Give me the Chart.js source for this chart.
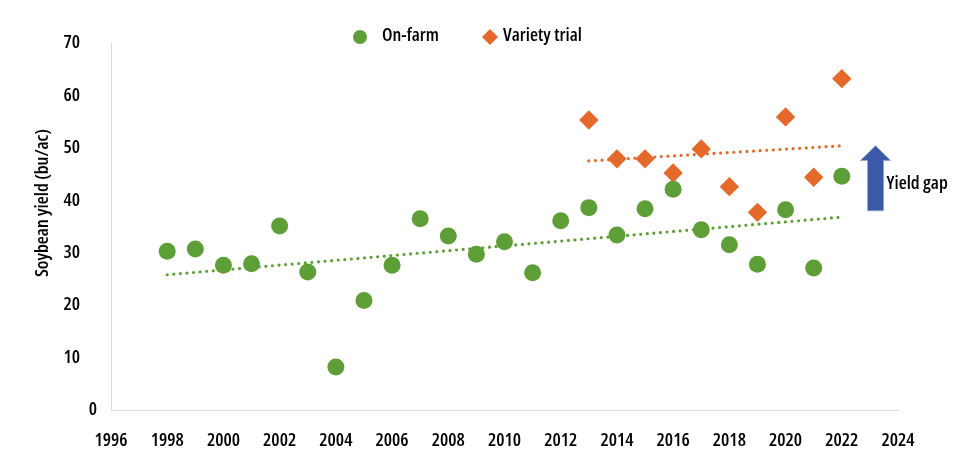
<!DOCTYPE html>
<html>
<head>
<meta charset="utf-8">
<script src="https://cdn.jsdelivr.net/npm/chart.js@4.4.1/dist/chart.umd.min.js"></script>
<style>
  html, body { margin: 0; padding: 0; background: #fff; }
  #wrap { width: 968px; height: 471px; }
</style>
</head>
<body>
<div id="wrap"><canvas id="yieldChart"></canvas></div>
<script>
// data
const onFarmYears = [1998, 1999, 2000, 2001, 2002, 2003, 2004, 2005, 2006, 2007, 2008, 2009, 2010,
                     2011, 2012, 2013, 2014, 2015, 2016, 2017, 2018, 2019, 2020, 2021, 2022];
const onFarmYield = [30.3, 30.7, 27.6, 27.9, 35.1, 26.3, 8.2, 20.9, 27.6, 36.5, 33.2, 29.7, 32.1,
                     26.2, 36.1, 38.6, 33.4, 38.4, 42.1, 34.4, 31.5, 27.8, 38.2, 27.1, 44.6];

const trialYears = [2013, 2014, 2015, 2016, 2017, 2018, 2019, 2020, 2021, 2022];
const trialYield = [55.3, 47.9, 47.9, 45.2, 49.8, 42.6, 37.7, 55.9, 44.4, 63.2];

// trend line end points (as drawn)
const onFarmTrendYears = [1998, 2022];
const onFarmTrendYield = [25.8, 36.8];
const trialTrendYears = [2013, 2022];
const trialTrendYield = [47.5, 50.4];

const xTicks = [1996, 1998, 2000, 2002, 2004, 2006, 2008, 2010, 2012, 2014, 2016, 2018, 2020, 2022, 2024];
const yTicks = [0, 10, 20, 30, 40, 50, 60, 70];

// yield gap arrow (data units)
const gapArrow = { x: 2023.2, from: 38.0, to: 50.4, headBase: 47.6 };

const GREEN = '#5e9e37';
const ORANGE = '#e5692a';
const BLUE = '#3a5aa8';

// look for a narrow face; the reference uses a condensed sans
function pickFont() {
    const c = document.createElement('canvas').getContext('2d');
    const probe = 'Soybean yield (bu/ac) 1996';
    c.font = '100px "Liberation Sans"';
    const base = c.measureText(probe).width;
    const tries = [
        ['"Open Sans"', 'condensed'],
        ['"Noto Sans"', 'condensed'],
        ['"Liberation Sans Narrow"', ''],
        ['"Roboto Condensed"', ''],
        ['"DejaVu Sans Condensed"', '']
    ];
    for (const [fam, st] of tries) {
        c.font = (st ? st + ' ' : '') + '100px ' + fam + ', "Liberation Sans"';
        const r = c.measureText(probe).width / base;
        if (r < 0.93) {
            const best = { family: fam, stretch: st };
            // size so that "1996" is about 33px wide
            c.font = '600 ' + (st ? st + ' ' : '') + '100px ' + fam;
            const w = c.measureText('1996').width / 100;
            best.size = Math.min(20, Math.round(33 / w * 2) / 2);
            return best;
        }
    }
    return { family: '"Liberation Sans"', stretch: '', size: 16 };
}
const FNT = pickFont();
const FAMILY = FNT.family + ', "Liberation Sans", sans-serif';
const FS = FNT.size;
const WEIGHT = FNT.stretch ? '600 ' + FNT.stretch : 'normal';
const fontStr = WEIGHT + ' ' + FS + 'px ' + FAMILY;

const pts = (xs, ys) => xs.map((x, i) => ({ x: x, y: ys[i] }));

// legend, axis title and arrow drawn by hand
const extras = {
    id: 'extras',
    afterDraw(chart) {
        const ctx = chart.ctx;
        const xs = chart.scales.x, ys = chart.scales.y;
        ctx.save();

        // legend
        ctx.fillStyle = GREEN;
        ctx.beginPath();
        ctx.arc(360, 37, 7, 0, Math.PI * 2);
        ctx.fill();
        ctx.fillStyle = ORANGE;
        ctx.beginPath();
        ctx.moveTo(490, 29); ctx.lineTo(498, 37); ctx.lineTo(490, 45); ctx.lineTo(482, 37);
        ctx.closePath();
        ctx.fill();
        ctx.fillStyle = '#000';
        ctx.font = fontStr;
        ctx.textBaseline = 'middle';
        ctx.textAlign = 'left';
        ctx.fillText('On-farm', 382, 36);
        ctx.fillText('Variety trial', 503, 36);

        // y axis title
        ctx.save();
        ctx.translate(43, 203);
        ctx.rotate(-Math.PI / 2);
        ctx.textAlign = 'center';
        ctx.fillText('Soybean yield (bu/ac)', 0, 0);
        ctx.restore();

        // yield gap arrow
        const ax = xs.getPixelForValue(gapArrow.x);
        const yTop = ys.getPixelForValue(gapArrow.to);
        const yBot = ys.getPixelForValue(gapArrow.from);
        const yHead = ys.getPixelForValue(gapArrow.headBase);
        ctx.beginPath();
        ctx.moveTo(ax - 8, yBot);
        ctx.lineTo(ax - 8, yHead);
        ctx.lineTo(ax - 15, yHead);
        ctx.lineTo(ax, yTop);
        ctx.lineTo(ax + 15, yHead);
        ctx.lineTo(ax + 8, yHead);
        ctx.lineTo(ax + 8, yBot);
        ctx.closePath();
        ctx.fillStyle = BLUE;
        ctx.fill();
        ctx.strokeStyle = '#8fa3d1';
        ctx.lineWidth = 0.8;
        ctx.stroke();

        ctx.fillStyle = '#000';
        ctx.textAlign = 'left';
        ctx.fillText('Yield gap', ax + 11, ys.getPixelForValue(43.2));
        ctx.restore();
    }
};

const tickFont = { family: FAMILY, size: FS, weight: WEIGHT };

new Chart(document.getElementById('yieldChart'), {
    type: 'scatter',
    data: {
        datasets: [
            {
                label: 'On-farm',
                data: pts(onFarmYears, onFarmYield),
                pointStyle: 'circle',
                pointRadius: 8.5,
                pointHoverRadius: 8.5,
                backgroundColor: GREEN,
                borderWidth: 0,
                order: 1
            },
            {
                label: 'Variety trial',
                data: pts(trialYears, trialYield),
                pointStyle: 'rectRot',
                pointRadius: 9.7,
                pointHoverRadius: 9.7,
                backgroundColor: ORANGE,
                borderWidth: 0,
                order: 1
            },
            {
                label: 'On-farm trend',
                type: 'line',
                data: pts(onFarmTrendYears, onFarmTrendYield),
                borderColor: GREEN,
                borderWidth: 3.2,
                borderDash: [0, 6.6],
                borderCapStyle: 'round',
                pointRadius: 0,
                fill: false,
                order: 2
            },
            {
                label: 'Variety trend',
                type: 'line',
                data: pts(trialTrendYears, trialTrendYield),
                borderColor: ORANGE,
                borderWidth: 3.2,
                borderDash: [0, 6.6],
                borderCapStyle: 'round',
                pointRadius: 0,
                fill: false,
                order: 2
            }
        ]
    },
    options: {
        responsive: true,
        maintainAspectRatio: false,
        animation: false,
        layout: { padding: { top: 43, right: 70, left: 0, bottom: 0 } },
        plugins: {
            legend: { display: false },
            tooltip: { enabled: false }
        },
        scales: {
            x: {
                type: 'linear',
                min: 1996,
                max: 2024,
                afterBuildTicks: (s) => { s.ticks = xTicks.map(v => ({ value: v })); },
                afterFit: (s) => { s.height = 61; },
                grid: { display: false, drawTicks: false },
                border: { display: true, color: '#d9d9d9', width: 1 },
                ticks: { color: '#000', padding: 20, font: tickFont, callback: v => String(v) }
            },
            y: {
                min: 0,
                max: 70,
                afterBuildTicks: (s) => { s.ticks = yTicks.map(v => ({ value: v })); },
                afterFit: (s) => { s.width = 111; },
                grid: { display: false, drawTicks: false },
                border: { display: true, color: '#d9d9d9', width: 1 },
                ticks: {
                    color: '#000',
                    padding: 14,
                    font: tickFont,
                    callback: v => (v === 0 ? '0' : v + '     ')
                }
            }
        }
    },
    plugins: [extras]
});
</script>
</body>
</html>
